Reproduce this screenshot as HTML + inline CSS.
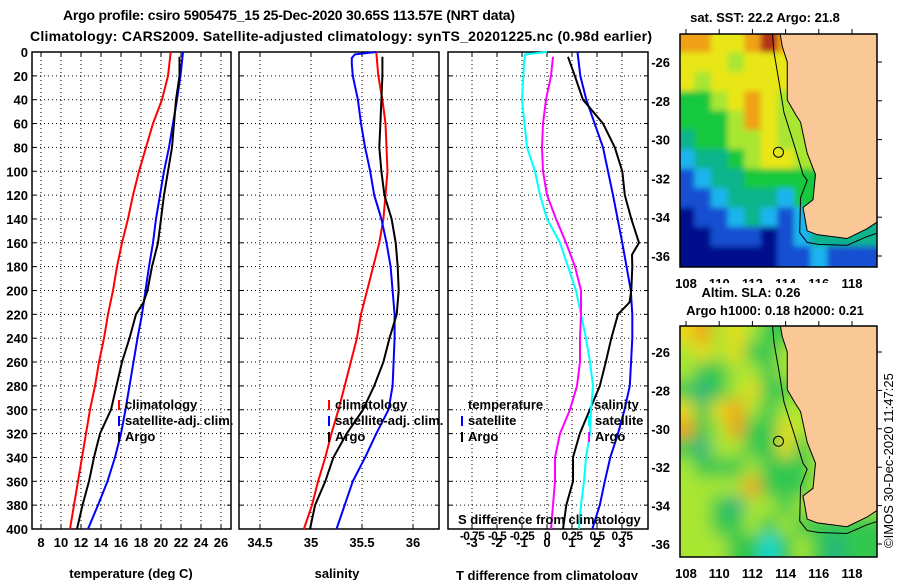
<!DOCTYPE html>
<html><head><meta charset="utf-8"><style>
html,body{margin:0;padding:0;background:#fff;width:900px;height:580px;overflow:hidden}
svg{display:block;font-family:"Liberation Sans",sans-serif}
</style></head><body>
<svg id="c" width="900" height="580" xmlns="http://www.w3.org/2000/svg">
<defs>
<clipPath id="cm1"><rect x="680" y="34" width="197" height="233"/></clipPath>
<clipPath id="cm2"><rect x="680" y="326" width="197" height="231"/></clipPath>
<filter id="b1" x="-5%" y="-5%" width="110%" height="110%"><feGaussianBlur stdDeviation="3"/></filter>
<filter id="b2" x="-5%" y="-5%" width="110%" height="110%"><feGaussianBlur stdDeviation="8"/></filter>
</defs>
<text x="63" y="20" textLength="452" font-size="14" font-weight="bold">Argo profile: csiro 5905475_15 25-Dec-2020 30.65S 113.57E (NRT data)</text>
<text x="30" y="41" textLength="622" font-size="14" font-weight="bold">Climatology: CARS2009. Satellite-adjusted climatology: synTS_20201225.nc (0.98d earlier)</text>
</svg>
<script>
// ---------- data ----------
const depthTicks=[0,20,40,60,80,100,120,140,160,180,200,220,240,260,280,300,320,340,360,380,400];
const tempTicks=[8,10,12,14,16,18,20,22,24,26];
const salTicks=[34.5,35,35.5,36];
const salTickLabels=["34.5","35","35.5","36"];
const tdiffTicks=[-3,-2,-1,0,1,2,3];
const sdiffTicks=[-0.75,-0.5,-0.25,0,0.25,0.5,0.75];
const sdiffTickLabels=["-0.75","-0.5","-0.25","0","0.25","0.5","0.75"];
const stdDepth=[0,20,40,60,80,100,120,140,160,180,200,220,240,260,280,300,320,340,360,380,400];
const climT=[20.97,20.7,20.1,19.2,18.5,17.8,17.2,16.7,16.1,15.6,15.2,14.7,14.3,13.8,13.4,12.9,12.5,12.1,11.7,11.3,10.9];
const satT=[22.2,21.95,21.6,21.2,20.8,20.3,19.9,19.5,19.2,18.8,18.45,18.1,17.65,17.25,16.85,16.45,16.0,15.4,14.65,13.7,12.7];
const argoDepth=[4,20,40,60,80,100,120,140,160,180,200,210,220,240,260,280,300,320,340,360,380,400];
const argoT=[21.85,21.85,21.5,21.3,21.1,20.7,20.3,20.0,19.7,19.1,18.65,18.25,17.5,16.85,16.1,15.55,15.0,13.9,13.3,12.8,12.15,11.6];
const climS=[35.64,35.66,35.70,35.73,35.74,35.75,35.73,35.71,35.67,35.61,35.55,35.49,35.45,35.39,35.33,35.27,35.20,35.14,35.07,35.01,34.93];
const satDepthS=[0,2,5,10,20,40,60,80,100,120,140,160,180,200,220,240,260,280,300,320,340,360,380,400];
const satS=[35.64,35.43,35.40,35.40,35.41,35.46,35.49,35.53,35.58,35.62,35.69,35.74,35.78,35.80,35.82,35.82,35.81,35.80,35.76,35.64,35.53,35.41,35.33,35.25];
const argoDepthS=[4,20,40,60,80,100,120,140,160,180,200,220,240,260,280,300,320,340,360,380,400];
const argoS=[35.70,35.70,35.69,35.68,35.67,35.69,35.72,35.79,35.83,35.85,35.86,35.84,35.77,35.71,35.62,35.51,35.35,35.22,35.14,35.04,34.99];
const satTdiffDepth=[0,20,40,80,120,160,200,220,240,280,300,320,340,360,380,400];
const satTdiff=[1.22,1.33,1.57,2.24,2.64,3.01,3.35,3.41,3.41,3.31,3.1,2.84,2.53,2.31,2.11,1.81];
const argoTdiffDepth=[4,20,40,60,80,100,120,140,160,170,180,200,210,220,240,260,280,300,320,340,360,380,400];
const argoTdiff=[0.84,1.11,1.44,2.24,2.71,3.01,3.11,3.37,3.68,3.4,3.41,3.37,3.3,2.84,2.57,2.35,2.11,1.71,1.31,1.04,1.04,0.77,0.64];
const satSdiffDepth=[0,2,10,40,80,100,120,140,160,180,200,220,240,260,280,300,320,340,360,380,400];
const satSdiff=[0.0,-0.22,-0.23,-0.25,-0.2,-0.12,-0.07,0.0,0.13,0.21,0.29,0.34,0.39,0.43,0.46,0.44,0.43,0.39,0.37,0.34,0.32];
const argoSdiffDepth=[4,20,40,60,80,100,120,140,160,180,200,220,240,260,280,300,320,340,360,380,400];
const argoSdiff=[0.06,0.04,-0.01,-0.04,-0.05,-0.04,0.0,0.09,0.19,0.28,0.34,0.34,0.33,0.33,0.3,0.23,0.13,0.08,0.08,0.06,0.04];
const latTicks=[-26,-28,-30,-32,-34,-36];
const lonTicks=[108,110,112,114,116,118];
const coastLon=[113.66,113.8,114.1,114.1,114.6,114.9,115.3,115.8,115.65,115.05,115.3,115.9,117.7,118.9,119.6];
const coastLat=[-24.5,-25.2,-26,-27.96,-28.7,-29.1,-30.7,-31.8,-33.1,-33.5,-34.7,-34.9,-35.1,-34.6,-34.2];
const shelfLon=[113.2,113.3,113.6,113.9,114.6,115.05,115.3,114.9,114.85,115.3,116.0,117.7,118.9,119.6];
const shelfLat=[-24.5,-25.5,-27.0,-28.6,-30.5,-31.8,-32.1,-33.0,-34.8,-35.3,-35.4,-35.45,-35.0,-34.8];
const sstRows=[
[7,7,6,6,7,8,7,8,8,8,8,8],
[6,6,6,5,6,6,6,7,7,7,7,7],
[6,5,6,6,6,6,6,6,6,6,6,6],
[4,4,5,6,7,6,5,5,5,5,5,5],
[4,4,4,5,7,6,5,5,5,5,5,5],
[3,4,4,5,5,6,5,5,5,5,5,5],
[2,3,3,4,5,6,6,5,5,5,5,5],
[1,2,3,3,4,4,4,4,4,4,4,4],
[1,1,2,3,3,3,2,4,4,4,4,4],
[0,1,1,2,3,2,1,2,3,3,3,3],
[0,0,1,1,1,0,1,2,3,3,3,3],
[0,0,0,0,0,0,1,1,2,1,1,1]];
const slaRows=[
[4,5,3,4,3,2,2,2,2,2,2,2],
[3,4,3,4,2,2,3,3,3,3,3,3],
[3,2,2,3,3,2,3,3,3,3,3,3],
[2,1,2,3,4,2,2,3,3,3,3,3],
[4,2,4,5,3,2,3,3,3,3,3,3],
[5,2,3,5,2,2,4,3,3,3,3,3],
[2,1,3,3,2,2,4,2,3,3,3,3],
[3,2,2,2,3,2,2,2,3,3,3,3],
[3,3,3,3,5,2,2,2,3,3,3,3],
[3,3,2,1,3,3,2,3,3,3,3,3],
[3,3,2,2,3,2,3,2,2,2,2,2],
[3,3,3,2,2,0,2,3,2,1,2,2]];
const argoLon=113.57, argoLat=-30.65;
// ---------- drawing ----------
const svg=document.getElementById('c');
const NS='http://www.w3.org/2000/svg';
function mk(tag,attrs,parent){const e=document.createElementNS(NS,tag);for(const k in attrs)e.setAttribute(k,attrs[k]);(parent||svg).appendChild(e);return e;}
const dy=d=>52+d*1.1925;
const tx=t=>41+(t-8)*10;
const sx=s=>311+(s-35)*102;
const dx=v=>547+v*25;
const sdx=v=>dx(v*4);
const T=52,B=529;
function panel(name,L,R,xt,xf,labels){
  const g=mk('g',{});
  
  
  xt.forEach(v=>{const x=xf(v);mk('line',{x1:x,x2:x,y1:T,y2:B,stroke:'#000','stroke-width':1,'stroke-dasharray':'1,3'},g);
    mk('line',{x1:x,x2:x,y1:T,y2:T+4,stroke:'#000'},g);mk('line',{x1:x,x2:x,y1:B-4,y2:B,stroke:'#000'},g);});
  depthTicks.forEach(d=>{const y=dy(d);if(d>0&&d<400)mk('line',{x1:L,x2:R,y1:y,y2:y,stroke:'#000','stroke-width':1,'stroke-dasharray':'1,3'},g);
    mk('line',{x1:L,x2:L+4,y1:y,y2:y,stroke:'#000'},g);mk('line',{x1:R-4,x2:R,y1:y,y2:y,stroke:'#000'},g);});
  mk('rect',{x:L,y:T,width:R-L,height:B-T,fill:'none',stroke:'#000','stroke-width':1.5},g);
  xt.forEach((v,i)=>{const t=mk('text',{x:xf(v),y:547,'font-size':13,'font-weight':'bold','text-anchor':'middle'},g);t.textContent=labels?labels[i]:String(v);});
  return g;
}
function series(name,xs,ds,xf,color){
  const pts=xs.map((v,i)=>xf(v).toFixed(1)+','+dy(ds[i]).toFixed(1)).join(' ');
  const p=mk('polyline',{points:pts,fill:'none',stroke:color,'stroke-width':2});
  
  
}
function txt(s,x,y,opts,name){const t=mk('text',Object.assign({x:x,y:y,'font-size':13,'font-weight':'bold'},opts||{}));t.textContent=s;
  
  return t;}
function bar(x,y,color){mk('rect',{x:x,y:y,width:2,height:10,fill:color});}

depthTicks.forEach(d=>{const t=mk('text',{x:28,y:dy(d)+5,'font-size':13,'font-weight':'bold','text-anchor':'end'});t.textContent=String(d);
  
  });

panel('temperature-panel',32,231,tempTicks,tx);
series('temp-climatology-line',climT,stdDepth,tx,'#ff0000');
series('temp-satellite-line',satT,stdDepth,tx,'#0000ff');
series('temp-argo-line',argoT,argoDepth,tx,'#000');
txt('temperature (deg C)',131,578,{'text-anchor':'middle'},'temperature-axis-title');
bar(118,400,'#ff0000');txt('climatology',125,409,{},'legend-climatology');
bar(118,416,'#0000ff');txt('satellite-adj. clim.',125,425,{},'legend-satellite');
bar(118,432,'#000');txt('Argo',125,441,{},'legend-argo');

panel('salinity-panel',239,439,salTicks,sx,salTickLabels);
series('sal-climatology-line',climS,stdDepth,sx,'#ff0000');
series('sal-satellite-line',satS,satDepthS,sx,'#0000ff');
series('sal-argo-line',argoS,argoDepthS,sx,'#000');
txt('salinity',337,578,{'text-anchor':'middle'},'salinity-axis-title');
bar(328,400,'#ff0000');txt('climatology',335,409,{},'legend-climatology-s');
bar(328,416,'#0000ff');txt('satellite-adj. clim.',335,425,{},'legend-satellite-s');
bar(328,432,'#000');txt('Argo',335,441,{},'legend-argo-s');

panel('difference-panel',448,648,tdiffTicks,dx);
series('tdiff-satellite-line',satTdiff,satTdiffDepth,dx,'#0000ff');
series('tdiff-argo-line',argoTdiff,argoTdiffDepth,dx,'#000');
series('sdiff-satellite-line',satSdiff,satSdiffDepth,sdx,'#00ffff');
series('sdiff-argo-line',argoSdiff,argoSdiffDepth,sdx,'#ff00ff');
txt('T difference from climatology',547,580,{'text-anchor':'middle'},'tdiff-axis-title');
txt('temperature',468,409,{},'legend-temperature-head');
txt('salinity',594,409,{},'legend-salinity-head');
bar(461,416,'#0000ff');txt('satellite',468,425,{},'legend-t-satellite');
bar(461,432,'#000');txt('Argo',468,441,{},'legend-t-argo');
bar(588,416,'#00ffff');txt('satellite',595,425,{},'legend-s-satellite');
bar(588,432,'#ff00ff');txt('Argo',595,441,{},'legend-s-argo');
txt('S difference from climatology',458,524,{},'sdiff-axis-title');
sdiffTicks.forEach((v,i)=>{const t=mk('text',{x:sdx(v),y:540,'font-size':12,'font-weight':'bold','text-anchor':'middle','letter-spacing':'-0.6'});t.textContent=sdiffTickLabels[i];
  
  });

const sstCol=['#000f8c','#1450d2','#1eb4ee','#10b48c','#12c83c','#a8e632','#e8e614','#f0a014','#b43214'];
const slaCol=['#10d8d8','#28b480','#30c850','#a8e632','#e8dc14','#f0a014'];
function map(name,top,bot,lat26y,lat36y,rows,cols,clip,filt){
  const g=mk('g',{});
  
  
  const mx=lon=>686+(lon-108)*16.6;
  const my=lat=>lat26y+(-26-lat)*(lat36y-lat26y)/10;
  const inner=mk('g',{'clip-path':'url(#'+clip+')'},g);
  const fg=mk('g',{filter:'url(#'+filt+')'},inner);
  rows.forEach((r,j)=>{r.forEach((v,i)=>{const lon=108+i,lat=-25-j;
    const x0=mx(lon-0.5),x1=mx(lon+0.5),y0=my(lat+0.5),y1=my(lat-0.5);
    const ex0=i==0?x0-20:x0, ex1=i==r.length-1?x1+20:x1, ey0=j==0?y0-20:y0, ey1=j==rows.length-1?y1+20:y1;
    mk('rect',{x:ex0,y:ey0,width:ex1-ex0+0.5,height:ey1-ey0+0.5,fill:cols[v]},fg);});});
  let lp=coastLon.map((lo,i)=>mx(lo)+','+my(coastLat[i])).join(' ');
  lp+=' '+mx(120)+','+my(-34.2)+' '+mx(120)+','+my(-24)+' '+mx(113.66)+','+my(-24);
  mk('polygon',{points:lp,fill:'#fac896',stroke:'#000','stroke-width':1},inner);
  mk('polyline',{points:shelfLon.map((lo,i)=>mx(lo)+','+my(shelfLat[i])).join(' '),fill:'none',stroke:'#000','stroke-width':1},inner);
  mk('circle',{cx:mx(argoLon),cy:my(argoLat),r:5,fill:'none',stroke:'#000','stroke-width':1},g);
  mk('rect',{x:680,y:top,width:197,height:bot-top,fill:'none',stroke:'#000','stroke-width':1.5},g);
  latTicks.forEach(l=>{const y=my(l);mk('line',{x1:877,x2:882,y1:y,y2:y,stroke:'#000'},g);
    const t=mk('text',{x:670,y:y+5,'font-size':13,'font-weight':'bold','text-anchor':'end'},g);t.textContent=String(l);});
  lonTicks.forEach(l=>{const x=mx(l);mk('line',{x1:x,x2:x,y1:top-5,y2:top,stroke:'#000'},g);
    const t=mk('text',{x:x,y:bot+21,'font-size':13,'font-weight':'bold','text-anchor':'middle'},g);t.textContent=String(l);});
}
map('sst-map',34,267,62,256,sstRows,sstCol,'cm1','b1');
map('sla-map',326,557,352,544,slaRows,slaCol,'cm2','b2');
txt('sat. SST: 22.2 Argo: 21.8',765,22,{'text-anchor':'middle'},'sst-map-title');
mk('rect',{x:700,y:283,width:140,height:15,fill:'#fff'});
txt('Altim. SLA: 0.26',751,297,{'text-anchor':'middle'},'sla-map-title');
txt('Argo h1000: 0.18 h2000: 0.21',775,315,{'text-anchor':'middle'},'sla-map-subtitle');
txt('©IMOS 30-Dec-2020 11:47:25',893,548,{transform:'rotate(-90 893 548)','font-weight':'normal'},'copyright-stamp');
</script>
</body></html>
